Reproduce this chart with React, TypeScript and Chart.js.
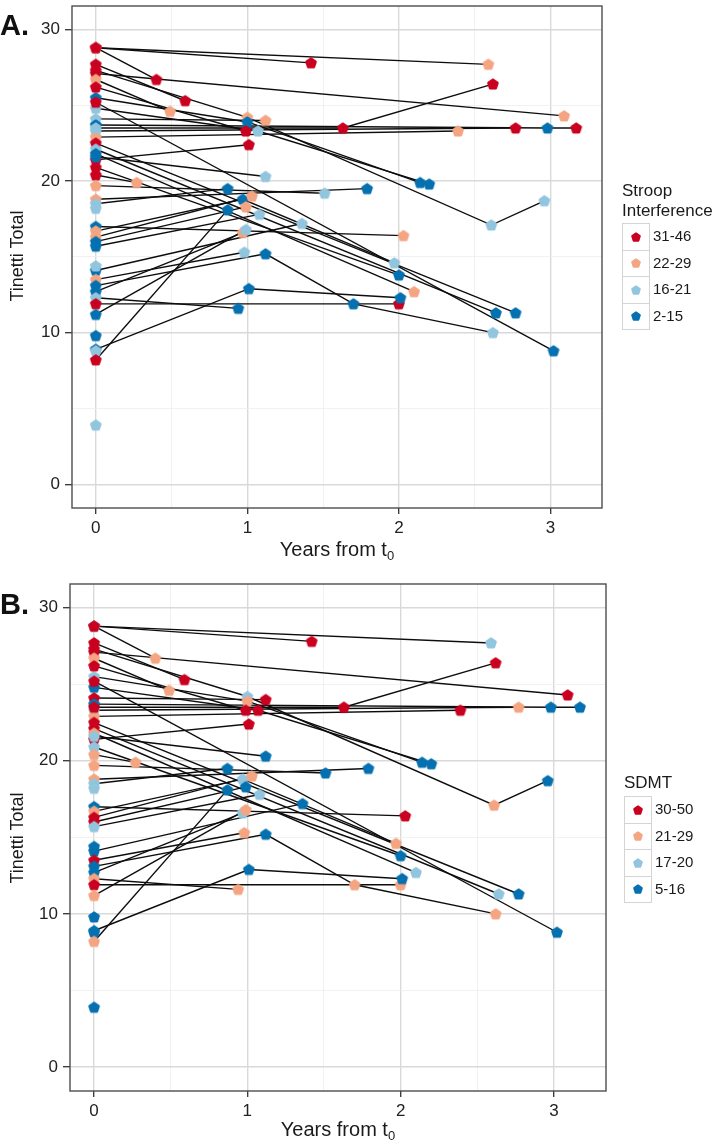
import React, { useEffect, useRef } from "react";
import { Chart, registerables } from "chart.js";

Chart.register(...registerables);

// ---- data (long format: one row per visit) ----
const SUBJECT = [
  1, 1, 2, 2, 3, 3, 4, 4, 5, 5, 5, 5, 6, 6, 7, 7, 8, 8, 8, 9, 9, 10, 10, 10,
  11, 11, 12, 12, 13, 13, 13, 14, 14, 15, 15, 16, 16, 16, 17, 17, 18, 18,
  19, 19, 20, 20, 21, 21, 22, 22, 23, 23, 24, 24, 25, 25, 26, 26, 27, 27, 27,
  28, 28, 29, 29, 30, 30, 31, 31, 32, 32, 33, 33, 34, 34, 34, 34, 35, 35,
  36, 36, 37, 37, 38, 38, 39, 40, 40, 40, 41, 42, 42, 43, 44, 45,
];
const YEARS = [
  0, 1.42, 0, 2.59, 0, 0.4, 0, 3.09, 0, 1.0, 2.61, 2.96, 0, 0.59, 0, 0.49, 0, 1.0, 2.14, 0, 0.99, 0, 1.07, 2.2,
  0, 1.01, 0, 1.12, 0, 2.98, 3.17, 0, 2.77, 0, 2.39, 0, 1.63, 2.62, 0, 3.02, 0, 2.77,
  0, 2.64, 0, 2.1, 0, 2.0, 0, 0.27, 0, 1.79, 0, 1.12, 0, 1.51, 0, 2.03, 0, 0.97, 1.97,
  0, 1.03, 0, 0.99, 0, 1.08, 0, 0.87, 0, 1.36, 0, 0.98, 0, 1.12, 1.7, 2.62, 0, 0.97,
  0, 0.94, 0, 2.0, 0, 0.99, 0, 0, 1.01, 2.01, 0, 0, 0.87, 0, 0, 0,
];
const TINETTI = [
  28.8, 27.8, 28.8, 27.7, 28.8, 26.7, 27.1, 24.3, 27.3, 24.2, 17.1, 18.7, 27.7, 25.3, 26.7, 24.6, 25.5, 23.9, 19.9, 26.2, 23.3, 24.8, 23.3, 19.8,
  21.4, 22.4, 24.1, 24.0, 23.7, 23.5, 23.5, 23.3, 23.5, 22.9, 23.3, 23.5, 23.5, 26.4, 25.2, 8.8, 22.5, 11.3,
  22.1, 11.3, 21.8, 12.7, 20.9, 13.8, 20.4, 19.9, 18.8, 19.5, 21.6, 20.3, 19.7, 19.2, 17.0, 16.4, 16.7, 18.8, 14.6,
  16.3, 19.0, 16.0, 18.3, 15.7, 17.8, 18.5, 19.5, 14.1, 17.2, 13.5, 15.3, 13.1, 15.2, 11.9, 10.0, 12.7, 16.6,
  12.3, 11.6, 11.9, 11.9, 11.2, 16.8, 9.8, 8.9, 12.9, 12.3, 8.8, 8.2, 18.1, 3.9, 14.4, 18.2,
];
// group index: 0 = highest band ... 3 = lowest band
const STROOP_GROUP = [
  0, 0, 1, 1, 0, 0, 0, 1, 0, 1, 2, 2, 0, 0, 1, 1, 3, 3, 3, 0, 0, 2, 2, 3,
  0, 0, 2, 1, 3, 3, 0, 2, 0, 1, 1, 2, 0, 0, 0, 3, 0, 3,
  2, 3, 3, 1, 0, 3, 0, 1, 1, 3, 3, 2, 1, 2, 3, 1, 1, 3, 2,
  1, 1, 3, 1, 3, 2, 2, 3, 3, 2, 1, 2, 3, 3, 3, 2, 3, 1,
  2, 3, 0, 0, 3, 2, 3, 3, 3, 3, 2, 0, 3, 2, 2, 2,
];
const SDMT_GROUP = [
  0, 0, 2, 2, 0, 1, 0, 0, 0, 2, 1, 3, 0, 0, 1, 1, 2, 1, 3, 0, 0, 3, 0, 3,
  0, 0, 0, 0, 3, 3, 3, 2, 1, 1, 0, 0, 0, 0, 0, 3, 0, 3,
  0, 2, 1, 2, 2, 3, 1, 1, 1, 3, 2, 3, 1, 3, 3, 0, 1, 2, 1,
  0, 1, 0, 3, 2, 2, 2, 3, 3, 3, 0, 1, 3, 3, 1, 1, 3, 2,
  1, 1, 0, 1, 1, 1, 3, 3, 3, 3, 3, 1, 3, 3, 3, 2,
];
const STROOP_LABELS = ["31-46", "22-29", "16-21", "2-15"];
const SDMT_LABELS = ["30-50", "21-29", "17-20", "5-16"];
const X_TICKS = [0, 1, 2, 3];
const X_MINOR = [0.5, 1.5, 2.5];
const Y_TICKS = [0, 10, 20, 30];
const Y_MINOR = [5, 15, 25];

// ---- styles ----
const PALETTE = ["#CA0020", "#F4A582", "#92C5DE", "#0571B0"];
const FONT = '"Liberation Sans", Arial, Helvetica, sans-serif';
const X_RANGE = [-0.157, 3.34];
const Y_RANGE = [-1.57, 31.55];

function marker(color: string): HTMLCanvasElement {
  const size = 14;
  const c = document.createElement("canvas");
  c.width = size;
  c.height = size;
  const g = c.getContext("2d")!;
  const cx = size / 2;
  const cy = size / 2 + 0.4;
  const r = 4.6;
  g.beginPath();
  for (let i = 0; i < 5; i++) {
    const a = -Math.PI / 2 + (i * 2 * Math.PI) / 5;
    const px = cx + r * Math.cos(a);
    const py = cy + r * Math.sin(a);
    if (i === 0) g.moveTo(px, py);
    else g.lineTo(px, py);
  }
  g.closePath();
  g.fillStyle = color;
  g.fill();
  g.lineJoin = "round";
  g.lineWidth = 2.8;
  g.strokeStyle = color;
  g.stroke();
  return c;
}

const framePlugin = {
  id: "frame",
  afterDatasetsDraw(chart: any) {
    const { ctx, chartArea } = chart;
    const { left, top, right, bottom } = chartArea;
    ctx.save();
    ctx.strokeStyle = "#4d4d4d";
    ctx.lineWidth = 1.4;
    ctx.strokeRect(left, top, right - left, bottom - top);
    ctx.restore();
  },
};

interface Geom {
  height: number;
  top: number;
  left: number;
  right: number;
  bottom: number;
}

function buildChart(canvas: HTMLCanvasElement, groups: number[], g: Geom) {
  const markers = PALETTE.map(marker);
  const ids: number[] = [];
  SUBJECT.forEach((s) => {
    if (!ids.includes(s)) ids.push(s);
  });
  const lineSets = ids
    .map((s) => {
      const rows = SUBJECT.map((v, i) => (v === s ? i : -1)).filter((i) => i >= 0);
      return {
        data: rows.map((i) => ({ x: YEARS[i], y: TINETTI[i] })),
        showLine: true,
        borderColor: "#0d0d0d",
        borderWidth: 1.4,
        pointRadius: 0,
        tension: 0,
        order: 2,
      };
    })
    .filter((d) => d.data.length > 1);
  const pointSet = {
    data: YEARS.map((x, i) => ({ x, y: TINETTI[i] })),
    showLine: false,
    pointStyle: YEARS.map((_, i) => markers[groups[i]]),
    pointRadius: 5,
    order: 1,
  };
  const isMajorX = (v: number) => X_TICKS.includes(v);
  const isMajorY = (v: number) => Y_TICKS.includes(v);
  const tickFont = { family: FONT, size: 17 };
  return new Chart(canvas, {
    type: "scatter",
    data: { datasets: [pointSet as any, ...(lineSets as any)] },
    plugins: [framePlugin],
    options: {
      animation: false,
      responsive: false,
      events: [],
      layout: {
        padding: { left: 0, top: g.top, right: 717 - g.right, bottom: 0 },
      },
      plugins: { legend: { display: false }, tooltip: { enabled: false } },
      scales: {
        x: {
          type: "linear",
          min: X_RANGE[0],
          max: X_RANGE[1],
          afterBuildTicks: (s: any) => {
            s.ticks = [...X_TICKS, ...X_MINOR].sort((a, b) => a - b).map((v) => ({ value: v }));
          },
          afterFit: (s: any) => {
            s.height = g.height - g.bottom;
            s.paddingLeft = 0;
            s.paddingRight = 0;
          },
          border: { display: false },
          grid: {
            color: (c: any) => (isMajorX(c.tick?.value) ? "#d9d9d9" : "#eeeeee"),
            lineWidth: (c: any) => (isMajorX(c.tick?.value) ? 1.4 : 0.8),
            tickLength: 6,
            tickColor: (c: any) => (isMajorX(c.tick?.value) ? "#333333" : "rgba(0,0,0,0)"),
            tickWidth: 1.3,
          },
          ticks: {
            autoSkip: false,
            maxRotation: 0,
            padding: 4,
            color: "#222222",
            font: tickFont,
            callback: (v: any) => (isMajorX(Number(v)) ? String(v) : ""),
          },
        },
        y: {
          type: "linear",
          min: Y_RANGE[0],
          max: Y_RANGE[1],
          afterBuildTicks: (s: any) => {
            s.ticks = [...Y_TICKS, ...Y_MINOR].sort((a, b) => a - b).map((v) => ({ value: v }));
          },
          afterFit: (s: any) => {
            s.width = g.left;
            s.paddingTop = 0;
            s.paddingBottom = 0;
          },
          border: { display: false },
          grid: {
            color: (c: any) => (isMajorY(c.tick?.value) ? "#d9d9d9" : "#eeeeee"),
            lineWidth: (c: any) => (isMajorY(c.tick?.value) ? 1.4 : 0.8),
            tickLength: 7,
            tickColor: (c: any) => (isMajorY(c.tick?.value) ? "#333333" : "rgba(0,0,0,0)"),
            tickWidth: 1.3,
          },
          ticks: {
            autoSkip: false,
            padding: 5,
            color: "#222222",
            font: tickFont,
            callback: (v: any) => (isMajorY(Number(v)) ? String(v) : ""),
          },
        },
      },
    } as any,
  });
}

function Pent({ color }: { color: string }) {
  const pts: string[] = [];
  for (let i = 0; i < 5; i++) {
    const a = -Math.PI / 2 + (i * 2 * Math.PI) / 5;
    pts.push(`${(6 + 4 * Math.cos(a)).toFixed(2)},${(6.4 + 4 * Math.sin(a)).toFixed(2)}`);
  }
  return (
    <svg width={12} height={12} style={{ display: "block" }}>
      <polygon points={pts.join(" ")} fill={color} stroke={color} strokeWidth={2} strokeLinejoin="round" />
    </svg>
  );
}

function Legend(props: { left: number; titleTop: number; titles: string[]; keysTop: number; labels: string[] }) {
  const { left, titleTop, titles, keysTop, labels } = props;
  const rowH = 26.5;
  return (
    <>
      {titles.map((t, i) => (
        <div
          key={t}
          style={{
            position: "absolute",
            left,
            top: titleTop + i * 20,
            fontSize: 17,
            lineHeight: "17px",
            color: "#1a1a1a",
            whiteSpace: "nowrap",
          }}
        >
          {t}
        </div>
      ))}
      {labels.map((lab, i) => (
        <React.Fragment key={lab}>
          <div
            style={{
              position: "absolute",
              left,
              top: keysTop + i * rowH,
              width: 26,
              height: rowH - 1,
              border: "1px solid #d4d4d4",
              background: "#ffffff",
              display: "flex",
              alignItems: "center",
              justifyContent: "center",
            }}
          >
            <Pent color={PALETTE[i]} />
          </div>
          <div
            style={{
              position: "absolute",
              left: left + 31,
              top: keysTop + i * rowH + rowH / 2 - 8,
              fontSize: 15,
              lineHeight: "16px",
              color: "#1a1a1a",
              whiteSpace: "nowrap",
            }}
          >
            {lab}
          </div>
        </React.Fragment>
      ))}
    </>
  );
}

function AxisTitles(props: { yCenter: number; xCenter: number; xTitleY: number }) {
  const { yCenter, xCenter, xTitleY } = props;
  return (
    <>
      <div
        style={{
          position: "absolute",
          left: 17 - 60,
          top: yCenter - 10,
          width: 120,
          height: 20,
          lineHeight: "20px",
          textAlign: "center",
          fontSize: 18,
          color: "#1a1a1a",
          transform: "rotate(-90deg)",
          whiteSpace: "nowrap",
        }}
      >
        Tinetti Total
      </div>
      <div
        style={{
          position: "absolute",
          left: xCenter - 100,
          top: xTitleY - 12,
          width: 200,
          height: 24,
          lineHeight: "24px",
          textAlign: "center",
          fontSize: 20,
          color: "#1a1a1a",
          whiteSpace: "nowrap",
        }}
      >
        Years from t<sub style={{ fontSize: 13, verticalAlign: "-4px" }}>0</sub>
      </div>
    </>
  );
}

export default function App() {
  const refA = useRef<HTMLCanvasElement>(null);
  const refB = useRef<HTMLCanvasElement>(null);

  useEffect(() => {
    const a = buildChart(refA.current!, STROOP_GROUP, { height: 570, top: 1, left: 72, right: 602, bottom: 508 });
    const b = buildChart(refB.current!, SDMT_GROUP, { height: 572, top: 14, left: 70, right: 606, bottom: 521 });
    return () => {
      a.destroy();
      b.destroy();
    };
  }, []);

  return (
    <div
      style={{
        position: "absolute",
        left: 0,
        top: 0,
        width: 717,
        height: 1142,
        background: "#ffffff",
        overflow: "hidden",
        fontFamily: FONT,
      }}
    >
      <canvas ref={refA} width={717} height={570} style={{ position: "absolute", left: 0, top: 0, width: 717, height: 570 }} />
      <canvas ref={refB} width={717} height={572} style={{ position: "absolute", left: 0, top: 570, width: 717, height: 572 }} />

      <div style={{ position: "absolute", left: 0, top: 11, fontSize: 29, lineHeight: "29px", fontWeight: 700, color: "#111" }}>A.</div>
      <div style={{ position: "absolute", left: 0, top: 590, fontSize: 29, lineHeight: "29px", fontWeight: 700, color: "#111" }}>B.</div>

      <AxisTitles yCenter={256} xCenter={337} xTitleY={549} />
      <AxisTitles yCenter={838} xCenter={338} xTitleY={1129} />

      <Legend left={622} titleTop={182} titles={["Stroop", "Interference"]} keysTop={223} labels={STROOP_LABELS} />
      <Legend left={624} titleTop={774} titles={["SDMT"]} keysTop={796} labels={SDMT_LABELS} />
    </div>
  );
}
